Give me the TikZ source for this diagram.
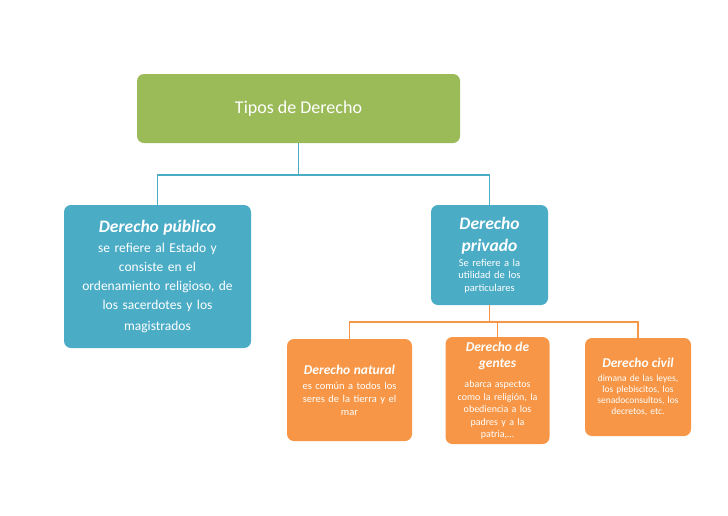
\documentclass[tikz,border=0pt]{standalone}
\usepackage{fontspec}
\setmainfont{Carlito}
\begin{document}
\begin{tikzpicture}[x=1pt,y=-1pt,
box/.style={rounded corners=7pt,text=white,align=center,inner sep=2pt},
gbox/.style={box,fill={rgb,255:red,155;green,187;blue,89}},
bbox/.style={box,fill={rgb,255:red,75;green,172;blue,198}},
obox/.style={box,fill={rgb,255:red,247;green,150;blue,70}},
bline/.style={draw={rgb,255:red,75;green,172;blue,198},line width=1.5pt},
oline/.style={draw={rgb,255:red,247;green,150;blue,70},line width=1.5pt}]
\useasboundingbox (0,0) rectangle (728,515);
\node[gbox,minimum width=323pt,minimum height=69pt,font=\fontsize{18}{20}\selectfont] (root) at (298.5,108.5) {Tipos de Derecho};
\node[bbox,minimum width=187pt,minimum height=143pt,text width=183pt,font=\fontsize{13.5}{19}\selectfont] (pub) at (157.5,276.5)
 {{\fontsize{17.5}{22}\selectfont\bfseries\itshape Derecho público\par}\vspace{1pt}se refiere al Estado y\\ consiste en el\\ ordenamiento religioso, de\\ los sacerdotes y los\\[2pt] magistrados};
\node[bbox,minimum width=117pt,minimum height=100pt,text width=112pt,font=\fontsize{10.5}{12.5}\selectfont] (priv) at (489.5,255)
 {{\fontsize{17.5}{22}\selectfont\bfseries\itshape Derecho\\ privado\par}\vspace{2pt}Se refiere a la\\ utilidad de los\\ particulares};
\node[obox,minimum width=125pt,minimum height=102pt,text width=120pt,font=\fontsize{10.5}{13}\selectfont] (nat) at (349.5,390)
 {{\fontsize{13.5}{16}\selectfont\bfseries\itshape Derecho natural\par}\vspace{2pt}es común a todos los\\ seres de la tierra y el\\ mar\\[18pt]};
\node[obox,minimum width=103pt,minimum height=107pt,text width=100pt,font=\fontsize{10}{12.5}\selectfont] (gen) at (497.5,390.5)
 {{\fontsize{13.5}{16}\selectfont\bfseries\itshape Derecho de\\ gentes\par}\vspace{8pt}abarca aspectos\\ como la religión, la\\ obediencia a los\\ padres y a la\\ patria,…};
\node[obox,minimum width=106pt,minimum height=98pt,text width=102pt,font=\fontsize{9.5}{11}\selectfont] (civ) at (638,387)
 {{\fontsize{13.5}{16}\selectfont\bfseries\itshape Derecho civil\par}\vspace{3pt}dimana de las leyes,\\ los plebiscitos, los\\ senadoconsultos, los\\ decretos, etc.\\[14pt]};
\draw[bline] (root.south) -- ++(0,32) -| (pub.north);
\draw[bline] (root.south) ++(0,32) -| (priv.north);
\draw[oline] (priv.south) -- ++(0,17) -| (nat.north);
\draw[oline] (priv.south) ++(0,17) -| (gen.north);
\draw[oline] (priv.south) ++(0,17) -| (civ.north);
\end{tikzpicture}
\end{document}
